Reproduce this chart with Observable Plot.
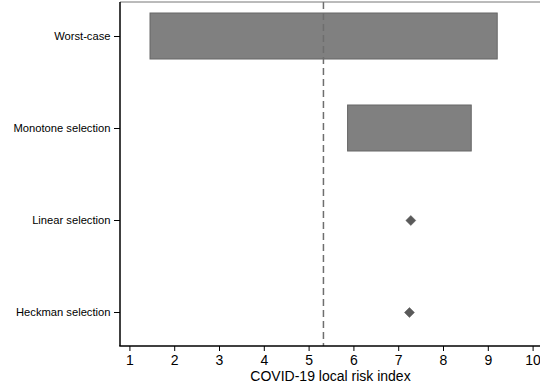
<!DOCTYPE html>
<html>
<head>
<meta charset="utf-8">
<script src="https://cdn.jsdelivr.net/npm/d3@7"></script>
<script src="https://cdn.jsdelivr.net/npm/@observablehq/plot@0.6"></script>
<style>
  html, body { margin: 0; padding: 0; background: #fff; }
  svg { overflow: visible; }
</style>
</head>
<body>
<div id="chart"></div>
<script>
const categories = ["Worst-case", "Monotone selection", "Linear selection", "Heckman selection"];
const boundCategories = ["Worst-case", "Monotone selection"];
const lowerBounds = [1.46, 5.87];
const upperBounds = [9.21, 8.63];
const pointCategories = ["Linear selection", "Heckman selection"];
const pointEstimates = [7.27, 7.24];
const referenceValue = [5.32];
const xTicks = [1, 2, 3, 4, 5, 6, 7, 8, 9, 10];
const xLabel = "COVID-19 local risk index";

const bounds = boundCategories.map((c, i) => ({cat: c, lo: lowerBounds[i], hi: upperBounds[i]}));
const points = pointCategories.map((c, i) => ({cat: c, v: pointEstimates[i]}));

const xMin = 0.79, xMax = 10.165;

function frameLines(index, scales, values, dims) {
  const ns = "http://www.w3.org/2000/svg";
  const g = document.createElementNS(ns, "g");
  const x0 = dims.marginLeft, x1 = dims.width - dims.marginRight;
  const yTop = dims.marginTop, yBot = dims.height - dims.marginBottom;
  const top = document.createElementNS(ns, "line");
  top.setAttribute("x1", x0); top.setAttribute("x2", x1);
  top.setAttribute("y1", yTop); top.setAttribute("y2", yTop);
  top.setAttribute("stroke", "#777"); top.setAttribute("stroke-width", 1);
  const bot = document.createElementNS(ns, "line");
  bot.setAttribute("x1", x0 - 0.75); bot.setAttribute("x2", x1);
  bot.setAttribute("y1", yBot); bot.setAttribute("y2", yBot);
  bot.setAttribute("stroke", "#000"); bot.setAttribute("stroke-width", 1.5);
  const left = document.createElementNS(ns, "line");
  left.setAttribute("x1", x0); left.setAttribute("x2", x0);
  left.setAttribute("y1", yTop); left.setAttribute("y2", yBot);
  left.setAttribute("stroke", "#000"); left.setAttribute("stroke-width", 1.5);
  g.appendChild(top); g.appendChild(bot); g.appendChild(left);
  return g;
}

const chart = Plot.plot({
  width: 540,
  height: 387,
  marginLeft: 120,
  marginRight: 0,
  marginTop: 2,
  marginBottom: 41,
  style: {fontFamily: "'Liberation Sans', Arial, sans-serif", background: "#fff", color: "#000"},
  x: {domain: [xMin, xMax], label: null},
  y: {type: "band", domain: categories, paddingInner: 0.5, paddingOuter: 0.1, label: null},
  marks: [
    Plot.barX(bounds, {y: "cat", x1: "lo", x2: "hi", fill: "#808080", stroke: "#666", strokeWidth: 1}),
    Plot.ruleX(referenceValue, {x: d => d, stroke: "#6e6e6e", strokeWidth: 1.5, strokeDasharray: "7,4"}),
    Plot.dot(points, {y: "cat", x: "v", symbol: "diamond2", r: 4.5, fill: "#5a5a5a", stroke: "#5a5a5a", strokeWidth: 0.5}),
    Plot.axisX({ticks: xTicks, tickSize: 5, tickPadding: 4, fontSize: 14, label: null, tickFormat: d => String(d)}),
    Plot.axisY({tickSize: 6, tickPadding: 4, fontSize: 11.2, label: null}),
    frameLines,
    Plot.text([xLabel], {text: d => d, frameAnchor: "bottom", lineAnchor: "middle", dy: 30, fontSize: 14, fill: "#000"})
  ]
});
document.getElementById("chart").appendChild(chart);
</script>
</body>
</html>
